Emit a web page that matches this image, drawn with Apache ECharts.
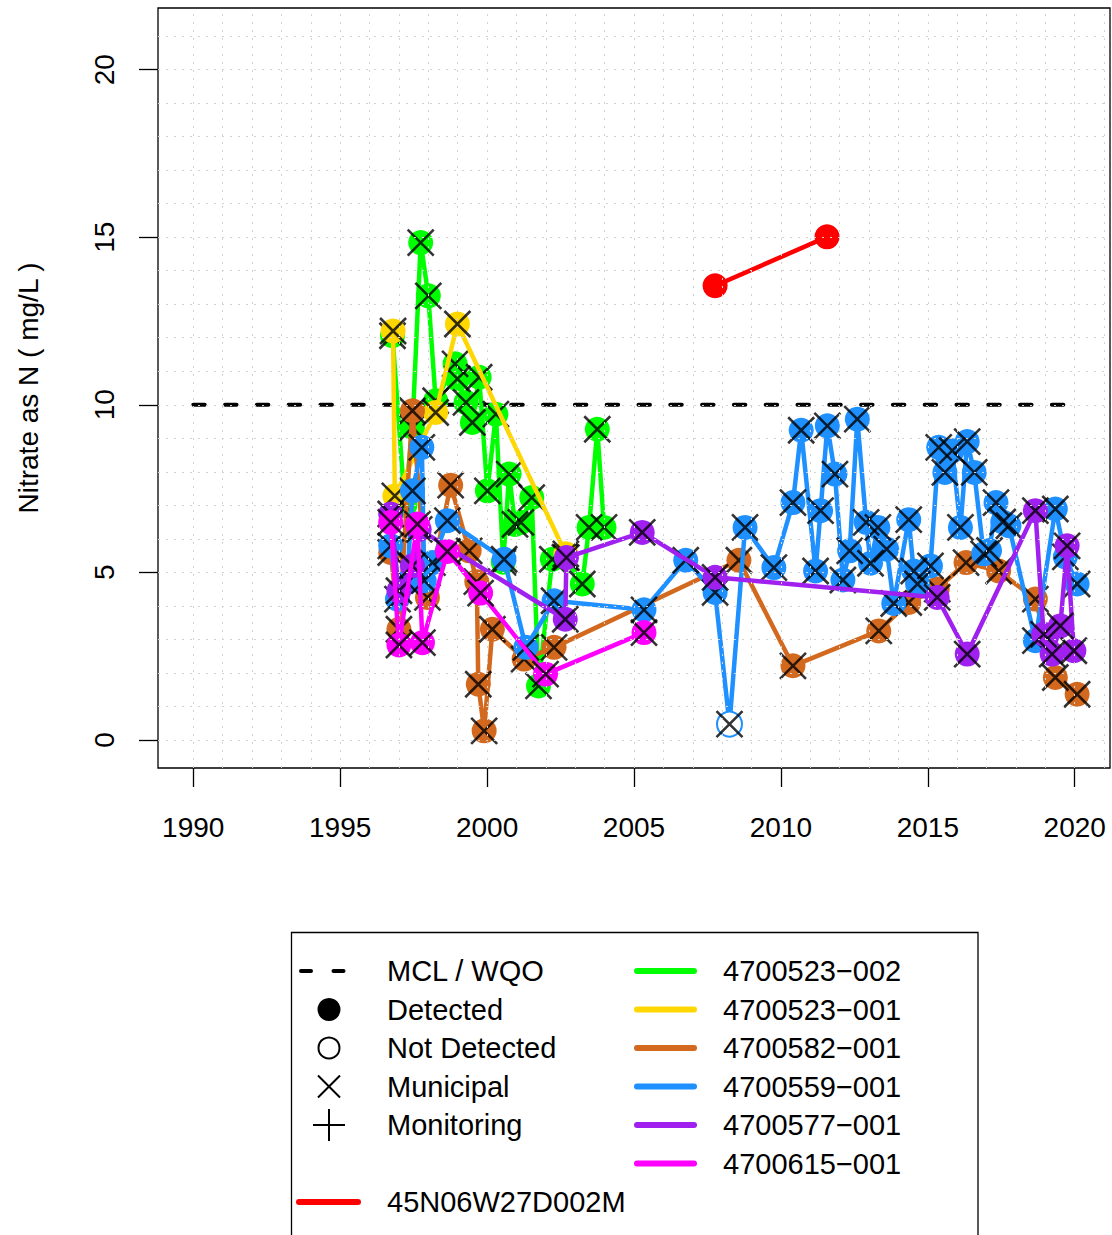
<!DOCTYPE html>
<html>
<head>
<meta charset="utf-8">
<script src="https://cdn.jsdelivr.net/npm/echarts@6/dist/echarts.min.js"></script>
<style>
html,body{margin:0;padding:0;background:#fff;}
#chart{width:1112px;height:1235px;}
</style>
</head>
<body>
<div id="chart"></div>
<script>
// ---------------- data ----------------
const xTicks = [1990, 1995, 2000, 2005, 2010, 2015, 2020];
const yTicks = [0, 5, 10, 15, 20];
const xGridYears = [1990,1991,1992,1993,1994,1995,1996,1997,1998,1999,2000,2001,2002,2003,2004,2005,2006,2007,2008,2009,2010,2011,2012,2013,2014,2015,2016,2017,2018,2019,2020,2021];
const yGridVals = [0,1,2,3,4,5,6,7,8,9,10,11,12,13,14,15,16,17,18,19,20,21];
const mclYears = [1990, 2020];
const mclVals = [10, 10];

const stationNames = ['4700523\u2212002','4700523\u2212001','4700582\u2212001','4700559\u2212001','4700577\u2212001','4700615\u2212001','45N06W27D002M'];

const t_523_002 = [1996.78,1997.20,1997.46,1997.74,1998.00,1998.25,1998.91,1998.99,1999.28,1999.50,1999.73,2000.01,2000.30,2000.55,2000.75,2000.95,2001.15,2001.52,2001.75,2002.22,2002.65,2003.24,2003.47,2003.75,2003.98];
const v_523_002 = [12.06,7.0,9.32,14.84,13.25,10.12,11.22,10.77,10.07,9.47,10.82,7.43,9.72,5.3,7.93,6.43,6.49,7.23,1.61,5.39,5.45,4.65,6.34,9.27,6.34];

const t_523_001 = [1996.80,1996.86,1998.25,1998.99,2002.68];
const v_523_001 = [12.2,7.28,9.77,12.41,5.55];

const t_582_001 = [1996.72,1997.00,1997.46,1997.97,1998.76,1999.39,1999.65,1999.70,1999.90,2000.18,2001.26,2002.28,2008.57,2010.41,2013.33,2014.35,2015.32,2016.30,2017.41,2018.66,2019.34,2020.08];
const v_582_001 = [5.59,3.3,9.82,4.25,7.6,5.64,4.72,1.66,0.27,3.3,2.41,2.76,5.36,2.21,3.25,4.1,4.5,5.29,5.04,4.2,1.86,1.36];

const t_559_001 = [1996.72,1996.95,1997.28,1997.46,1997.78,1997.86,1998.14,1998.65,2000.58,2001.32,2002.28,2005.34,2006.76,2007.76,2008.25,2008.78,2009.76,2010.41,2010.69,2011.18,2011.35,2011.58,2011.84,2012.11,2012.34,2012.60,2012.90,2013.05,2013.30,2013.60,2013.84,2014.35,2014.52,2014.65,2015.09,2015.37,2015.58,2015.83,2016.11,2016.34,2016.58,2016.90,2017.10,2017.32,2017.55,2017.76,2018.66,2019.34,2019.68,2020.08];
const v_559_001 = [5.79,4.2,4.7,7.43,8.73,4.75,5.29,6.54,5.39,2.76,4.15,3.88,5.36,4.4,0.47,6.34,5.14,7.08,9.24,5.04,6.84,9.37,7.93,4.77,5.64,9.57,6.49,5.27,6.34,5.69,4.07,6.57,5.04,4.65,5.19,8.73,7.98,8.63,6.34,8.9,7.98,5.55,5.65,7.08,6.5,6.39,2.96,6.89,5.46,4.65];
const nd_559_001 = [2008.25]; // not detected sample dates

const t_577_001 = [1996.72,1997.00,1997.46,1997.69,2002.66,2002.70,2005.28,2007.76,2015.32,2016.34,2018.66,2018.94,2019.23,2019.51,2019.74,2019.97];
const v_577_001 = [6.74,4.45,5.19,6.28,3.6,5.44,6.19,4.85,4.25,2.56,6.84,3.15,2.56,3.4,5.79,2.66];

const t_615_001 = [1996.72,1997.00,1997.63,1997.80,1998.65,1999.78,2001.99,2005.34];
const v_615_001 = [6.49,2.83,6.44,2.9,5.62,4.38,1.96,3.2];

const t_45N = [2007.76, 2011.57];
const v_45N = [13.55, 15.01];

// ---------------- styling ----------------
const FONT = '"Liberation Sans", Arial, Helvetica, sans-serif';
const colors = ['#00FF00','#FFD700','#D2691E','#1E90FF','#A020F0','#FF00FF','#FF0000'];
const CROSS = 'path://M0 0L26 26M26 0L0 26';

function pairs(t, v, nd) {
  return t.map((x, i) => {
    if (nd && nd.indexOf(x) >= 0) {
      return {value: [x, v[i]], itemStyle: {color: '#ffffff', borderColor: '#1E90FF', borderWidth: 2}};
    }
    return [x, v[i]];
  });
}

const stations = [
  {t: t_523_002, v: v_523_002, municipal: true},
  {t: t_523_001, v: v_523_001, municipal: true},
  {t: t_582_001, v: v_582_001, municipal: true},
  {t: t_559_001, v: v_559_001, municipal: true, nd: nd_559_001},
  {t: t_577_001, v: v_577_001, municipal: true},
  {t: t_615_001, v: v_615_001, municipal: true},
  {t: t_45N, v: v_45N, municipal: false}
];

const series = [];
series.push({
  type: 'line', name: 'MCL / WQO', silent: true, animation: false, z: 1,
  data: mclYears.map((x, i) => [x, mclVals[i]]),
  symbol: 'none',
  lineStyle: {color: '#000', width: 4, type: [11.5, 20.3], cap: 'round'},
  markLine: {
    silent: true, animation: false, symbol: ['none', 'none'], label: {show: false},
    emphasis: {disabled: true}, z: 60,
    lineStyle: {color: '#d3d3d3', width: 1, type: [2, 6]},
    data: xGridYears.map(v => ({xAxis: v})).concat(yGridVals.map(v => ({yAxis: v})))
  }
});

stations.forEach((s, k) => {
  series.push({
    type: 'line', name: stationNames[k], silent: true, animation: false, z: 2 + 2 * k,
    data: pairs(s.t, s.v, s.nd),
    symbol: 'circle', symbolSize: 25, showSymbol: true, showAllSymbol: true,
    lineStyle: {color: colors[k], width: 4.5, cap: 'round', join: 'round'},
    itemStyle: {color: colors[k], borderWidth: 0},
    emphasis: {disabled: true}
  });
  if (s.municipal) {
    series.push({
      type: 'scatter', name: stationNames[k] + ' municipal', silent: true, animation: false, z: 3 + 2 * k,
      data: pairs(s.t, s.v).map(d => Array.isArray(d) ? d : d.value),
      symbol: CROSS, symbolSize: 26,
      itemStyle: {color: 'transparent', borderColor: '#000', borderWidth: 2.6},
      emphasis: {disabled: true}
    });
  }
});

// ---------------- legend (graphic) ----------------
const LX = 291.5, LY = 932.5;
const rowY = [971, 1009.5, 1048, 1086.5, 1125, 1163.5, 1202];
const g = [];
g.push({type: 'rect', shape: {x: LX, y: LY, width: 686.5, height: 340}, style: {fill: '#fff', stroke: '#000', lineWidth: 1.3}, z: 100});
g.push({type: 'line', shape: {x1: 301, y1: rowY[0], x2: 311, y2: rowY[0]}, style: {stroke: '#000', lineWidth: 4, lineCap: 'round'}, z: 101});
g.push({type: 'line', shape: {x1: 333.5, y1: rowY[0], x2: 343.5, y2: rowY[0]}, style: {stroke: '#000', lineWidth: 4, lineCap: 'round'}, z: 101});
g.push({type: 'circle', shape: {cx: 329, cy: rowY[1], r: 11.5}, style: {fill: '#000'}, z: 101});
g.push({type: 'circle', shape: {cx: 329, cy: rowY[2], r: 10.5}, style: {fill: 'none', stroke: '#000', lineWidth: 2}, z: 101});
g.push({type: 'line', shape: {x1: 318, y1: rowY[3] - 11, x2: 340, y2: rowY[3] + 11}, style: {stroke: '#000', lineWidth: 2}, z: 101});
g.push({type: 'line', shape: {x1: 340, y1: rowY[3] - 11, x2: 318, y2: rowY[3] + 11}, style: {stroke: '#000', lineWidth: 2}, z: 101});
g.push({type: 'line', shape: {x1: 313, y1: rowY[4], x2: 345, y2: rowY[4]}, style: {stroke: '#000', lineWidth: 2}, z: 101});
g.push({type: 'line', shape: {x1: 329, y1: rowY[4] - 16, x2: 329, y2: rowY[4] + 16}, style: {stroke: '#000', lineWidth: 2}, z: 101});
g.push({type: 'line', shape: {x1: 299, y1: rowY[6], x2: 358, y2: rowY[6]}, style: {stroke: colors[6], lineWidth: 6, lineCap: 'round'}, z: 101});
const leftTexts = ['MCL / WQO', 'Detected', 'Not Detected', 'Municipal', 'Monitoring'];
leftTexts.forEach((tx, i) => {
  g.push({type: 'text', x: 387, y: rowY[i], style: {text: tx, font: '29px ' + FONT, fill: '#000', textVerticalAlign: 'middle', textAlign: 'left'}, z: 101});
});
g.push({type: 'text', x: 387, y: rowY[6], style: {text: stationNames[6], font: '29px ' + FONT, fill: '#000', textVerticalAlign: 'middle', textAlign: 'left'}, z: 101});
for (let i = 0; i < 6; i++) {
  g.push({type: 'line', shape: {x1: 637, y1: rowY[i], x2: 694, y2: rowY[i]}, style: {stroke: colors[i], lineWidth: 6, lineCap: 'round'}, z: 101});
  g.push({type: 'text', x: 723, y: rowY[i], style: {text: stationNames[i], font: '29px ' + FONT, fill: '#000', textVerticalAlign: 'middle', textAlign: 'left'}, z: 101});
}

const option = {
  animation: false,
  backgroundColor: '#ffffff',
  textStyle: {fontFamily: FONT},
  grid: {left: 158, top: 8, width: 952, height: 760, show: true, borderColor: '#000', borderWidth: 1.3, backgroundColor: 'transparent', containLabel: false},
  xAxis: {
    type: 'value', min: 1988.8, max: 2021.2,
    axisLine: {show: false, onZero: false},
    splitLine: {show: false},
    axisTick: {show: true, length: 19, lineStyle: {color: '#000', width: 1.3}, customValues: xTicks},
    axisLabel: {show: true, customValues: xTicks, margin: 45, fontSize: 28, color: '#000', fontFamily: FONT, formatter: v => String(Math.round(v))}
  },
  yAxis: {
    type: 'value', min: -0.84, max: 21.84,
    name: 'Nitrate as N ( mg/L )', nameLocation: 'middle', nameGap: 116,
    nameTextStyle: {fontSize: 28, color: '#000', fontFamily: FONT},
    axisLine: {show: false, onZero: false},
    splitLine: {show: false},
    axisTick: {show: true, length: 19, lineStyle: {color: '#000', width: 1.3}, customValues: yTicks},
    axisLabel: {show: true, customValues: yTicks, rotate: 90, margin: 40, fontSize: 28, color: '#000', fontFamily: FONT, formatter: v => String(Math.round(v))}
  },
  series: series,
  graphic: g
};

const chart = echarts.init(document.getElementById('chart'), null, {renderer: 'svg'});
chart.setOption(option);
</script>
</body>
</html>
